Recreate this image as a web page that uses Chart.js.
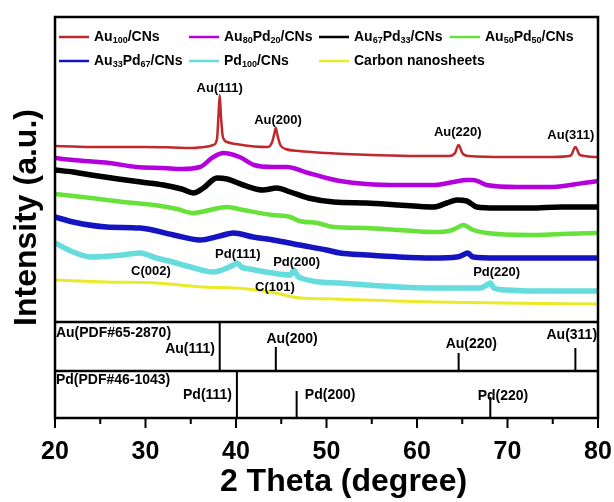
<!DOCTYPE html>
<html>
<head>
<meta charset="utf-8">
<script src="https://cdn.jsdelivr.net/npm/chart.js@4.4.1/dist/chart.umd.min.js"></script>
<style>
  html, body { margin: 0; padding: 0; background: #fff; }
  #wrap { width: 614px; height: 502px; }
</style>
</head>
<body>
<div id="wrap"><canvas id="xrd" width="614" height="502"></canvas></div>
<script>
// XRD patterns, intensity in a.u. (already offset as stacked in the figure)
const au100Theta = [20, 22, 25, 28, 30, 33, 35, 36.5, 37.5, 37.9, 38.05, 38.2, 38.35, 38.55, 39, 40, 42, 43.5, 44.0, 44.25, 44.4, 44.55, 44.9, 45.5, 47, 50, 52, 55, 60, 63.5, 64.2, 64.6, 65.0, 65.7, 70, 75, 77, 77.5, 78, 80];
const au100Int = [272, 271.5, 271, 271, 271, 270.5, 270, 271, 273, 279, 300, 323, 300, 281, 276, 274, 271.5, 271, 276, 285, 290, 284, 273, 269, 267, 265, 264, 263, 262, 262, 265, 273, 265, 262, 261, 261, 262.5, 271, 263, 261];

const au80Theta = [20, 22, 26, 29, 32, 34, 36, 37.5, 38.6, 40.4, 42, 44, 45.6, 48, 50, 51.5, 54.4, 58, 62, 64, 65.5, 66.2, 67.7, 71, 75, 78.4, 80];
const au80Int = [260, 258, 255, 251, 250, 249, 251, 261, 265, 261, 253, 251, 251, 245, 240, 237, 234, 233, 233, 236, 238, 238, 233, 231, 231, 235, 237];

const au67Theta = [20, 22, 24, 27, 29.5, 32, 34, 35.3, 36.4, 37.9, 39, 40.8, 43, 44.5, 46, 48, 50.8, 54.4, 58, 61.8, 63.3, 64.4, 65.5, 66.6, 68.8, 72.5, 76, 80];
const au67Int = [248, 246, 243, 239, 236, 233, 229, 225, 230, 240, 239, 233, 228, 230, 226, 220, 216, 215, 213, 211, 215, 218, 217, 211, 210, 210, 211, 211];

const au50Theta = [20, 24, 27.5, 31, 33.5, 35.3, 37.1, 39, 40.8, 44, 46, 47, 49, 50.8, 54.4, 58, 61.8, 63.5, 64.4, 65.1, 66.2, 67.7, 72.5, 76, 80];
const au50Int = [224, 220, 216, 213, 209, 205, 208, 211, 208, 203, 201, 197, 195, 191, 190, 188, 186, 187, 190, 193, 188, 185, 183, 184, 185];

const au33Theta = [20, 22, 25.7, 29.4, 33.1, 36, 38.2, 39.7, 41.9, 44.1, 47, 50, 51.5, 54.4, 58, 61.8, 64.4, 65.3, 65.6, 66.2, 68.8, 74, 80];
const au33Int = [201, 196, 191, 190, 183, 178, 182, 185, 181, 178, 173, 168, 165, 163, 161, 160, 161, 164, 165, 161, 160, 160, 160];

const pd100Theta = [20, 22, 24, 27.5, 29.4, 31.2, 33, 35, 37.5, 39, 39.7, 40.1, 40.6, 41.5, 44, 46, 46.4, 46.8, 47.5, 49.3, 51.5, 54.4, 58, 61.8, 67, 67.7, 68.1, 68.5, 70, 72.5, 80];
const pd100Int = [175, 166, 161, 163, 165, 160, 156, 151, 146, 150, 153, 155, 151, 149, 145, 143, 148, 142, 139, 136, 135, 133, 131, 130, 130, 133, 135, 130, 128, 127, 127];

const cnsTheta = [20, 25.7, 31.2, 36.4, 40.1, 43.8, 47.1, 50.8, 54.4, 61.8, 69.2, 80];
const cnsInt = [138, 136, 135, 131, 130, 126, 120, 119, 118, 116, 115, 114];

// standard cards (stick patterns)
const auRefTheta = [38.2, 44.4, 64.6, 77.5];
const auRefHeight = [49, 24, 18, 23];
const pdRefTheta = [40.1, 46.7, 68.1];
const pdRefHeight = [47, 27, 21];

const seriesNames = ['Au_100/CNs', 'Au_80Pd_20/CNs', 'Au_67Pd_33/CNs', 'Au_50Pd_50/CNs', 'Au_33Pd_67/CNs', 'Pd_100/CNs', 'Carbon nanosheets'];
const seriesColors = ['#c0282c', '#b400dc', '#000000', '#66e23a', '#1414c0', '#66dcdc', '#eaea2a'];
const seriesWidths = [2.5, 4.5, 5.5, 4.5, 5.5, 5.5, 3];

const xTicks = [20, 30, 40, 50, 60, 70, 80];

// panel boundaries on the intensity axis
const pdBase = 0;
const auBase = 47;
const mainBase = 96;
const yTop = 401;

// annotations: text, 2theta, intensity, align
const peakNotes = [
    ['Au(111)', 38.2, 330, 'center'],
    ['Au(200)', 44.64, 298, 'center'],
    ['Au(220)', 64.5, 286, 'center'],
    ['Au(311)', 77.0, 283, 'center'],
    ['Pd(111)', 40.2, 164, 'center'],
    ['Pd(200)', 46.7, 156, 'center'],
    ['C(002)', 30.6, 147, 'center'],
    ['C(101)', 44.3, 131, 'center'],
    ['Pd(220)', 68.8, 146, 'center']
];
const refNotes = [
    ['Au(PDF#65-2870)', 20.1, 85, 'left'],
    ['Au(111)', 37.68, 69, 'right'],
    ['Au(200)', 46.2, 79, 'center'],
    ['Au(220)', 66.0, 74, 'center'],
    ['Au(311)', 77.1, 83, 'center'],
    ['Pd(PDF#46-1043)', 20.1, 38, 'left'],
    ['Pd(111)', 39.56, 23, 'right'],
    ['Pd(200)', 50.4, 23, 'center'],
    ['Pd(220)', 69.5, 22, 'center']
];

const FONT = '"Liberation Sans", Arial, Helvetica, sans-serif';

function pts(xs, ys) {
    return xs.map((x, i) => ({ x: x, y: ys[i] }));
}

function sticks(xs, hs, base) {
    const out = [];
    xs.forEach((x, i) => {
        out.push({ x: x, y: base });
        out.push({ x: x, y: base + hs[i] });
        out.push({ x: x, y: null });
    });
    return out;
}

const seriesData = [
    pts(au100Theta, au100Int),
    pts(au80Theta, au80Int),
    pts(au67Theta, au67Int),
    pts(au50Theta, au50Int),
    pts(au33Theta, au33Int),
    pts(pd100Theta, pd100Int),
    pts(cnsTheta, cnsInt)
];

const datasets = seriesData.map((d, i) => ({
    label: seriesNames[i].replace(/_/g, ''),
    data: d,
    borderColor: seriesColors[i],
    borderWidth: seriesWidths[i],
    pointRadius: 0,
    cubicInterpolationMode: 'monotone',
    fill: false
}));
datasets.push({
    label: 'Au(PDF#65-2870)',
    data: sticks(auRefTheta, auRefHeight, auBase),
    borderColor: '#000',
    borderWidth: 2,
    pointRadius: 0,
    spanGaps: false
});
datasets.push({
    label: 'Pd(PDF#46-1043)',
    data: sticks(pdRefTheta, pdRefHeight, pdBase),
    borderColor: '#000',
    borderWidth: 2,
    pointRadius: 0,
    spanGaps: false
});

// text with "_123" parts drawn as subscripts
function drawRich(ctx, str, x, y, size) {
    const parts = str.split(/_(\d+)/);
    parts.forEach((p, i) => {
        if (!p) return;
        const sub = i % 2 === 1;
        ctx.font = 'bold ' + (sub ? 9 : size) + 'px ' + FONT;
        ctx.fillText(p, x, sub ? y + 4 : y);
        x += ctx.measureText(p).width;
    });
}

const decorPlugin = {
    id: 'decor',
    afterDatasetsDraw(chart) {
        const ctx = chart.ctx;
        const area = chart.chartArea;
        const xs = chart.scales.x;
        const ys = chart.scales.y;
        ctx.save();
        ctx.strokeStyle = '#000';
        ctx.fillStyle = '#000';

        // frame and panel dividers
        ctx.lineWidth = 2.5;
        ctx.strokeRect(area.left, area.top, area.right - area.left, area.bottom - area.top);
        [mainBase, auBase].forEach(v => {
            const py = ys.getPixelForValue(v);
            ctx.beginPath();
            ctx.moveTo(area.left, py);
            ctx.lineTo(area.right, py);
            ctx.stroke();
        });

        // tick marks below the axis
        ctx.lineWidth = 2;
        ctx.beginPath();
        xs.ticks.forEach(t => {
            const px = xs.getPixelForValue(t.value);
            const len = t.value % 10 === 0 ? 10 : 6;
            ctx.moveTo(px, area.bottom);
            ctx.lineTo(px, area.bottom + len);
        });
        ctx.stroke();

        // peak labels
        ctx.textBaseline = 'middle';
        ctx.font = 'bold 13px ' + FONT;
        peakNotes.forEach(n => {
            ctx.textAlign = n[3];
            ctx.fillText(n[0], xs.getPixelForValue(n[1]), ys.getPixelForValue(n[2]));
        });
        ctx.font = 'bold 14px ' + FONT;
        refNotes.forEach(n => {
            ctx.textAlign = n[3];
            ctx.fillText(n[0], xs.getPixelForValue(n[1]), ys.getPixelForValue(n[2]));
        });

        // legend inside the frame, 4 columns
        ctx.textAlign = 'left';
        const colX = [4, 134, 264, 395];
        const rowY = [20, 44];
        seriesNames.forEach((name, i) => {
            const x0 = area.left + colX[i % 4];
            const y0 = area.top + rowY[Math.floor(i / 4)];
            ctx.strokeStyle = seriesColors[i];
            ctx.lineWidth = 2.5;
            ctx.beginPath();
            ctx.moveTo(x0, y0);
            ctx.lineTo(x0 + 30, y0);
            ctx.stroke();
            ctx.fillStyle = '#000';
            drawRich(ctx, name, x0 + 35, y0, 14);
        });

        // x axis title
        ctx.textAlign = 'center';
        ctx.font = 'bold 32px ' + FONT;
        ctx.fillText('2 Theta (degree)', (area.left + area.right) / 2 + 17, 482);
        ctx.restore();
    }
};

Chart.defaults.font.family = FONT;
Chart.defaults.color = '#000';

new Chart(document.getElementById('xrd').getContext('2d'), {
    type: 'line',
    data: { datasets: datasets },
    options: {
        responsive: false,
        animation: false,
        layout: { padding: { top: 17, right: 16, left: 0, bottom: 0 } },
        plugins: {
            legend: { display: false },
            tooltip: { enabled: false }
        },
        scales: {
            x: {
                type: 'linear',
                min: 20,
                max: 80,
                border: { display: false },
                grid: { display: false, drawTicks: false },
                ticks: {
                    stepSize: 5,
                    autoSkip: false,
                    maxRotation: 0,
                    padding: 19,
                    font: { size: 25, weight: 'bold' },
                    callback: v => (xTicks.includes(v) ? v : '')
                },
                afterFit: s => {
                    s.height = 84;
                    s.paddingLeft = 0;
                    s.paddingRight = 0;
                }
            },
            y: {
                min: pdBase,
                max: yTop,
                border: { display: false },
                grid: { display: false },
                ticks: { display: false },
                title: {
                    display: true,
                    text: 'Intensity (a.u.)',
                    font: { size: 32, weight: 'bold' },
                    padding: { top: 8, bottom: 0 }
                },
                afterFit: s => { s.width = 55; }
            }
        }
    },
    plugins: [decorPlugin]
});
</script>
</body>
</html>
